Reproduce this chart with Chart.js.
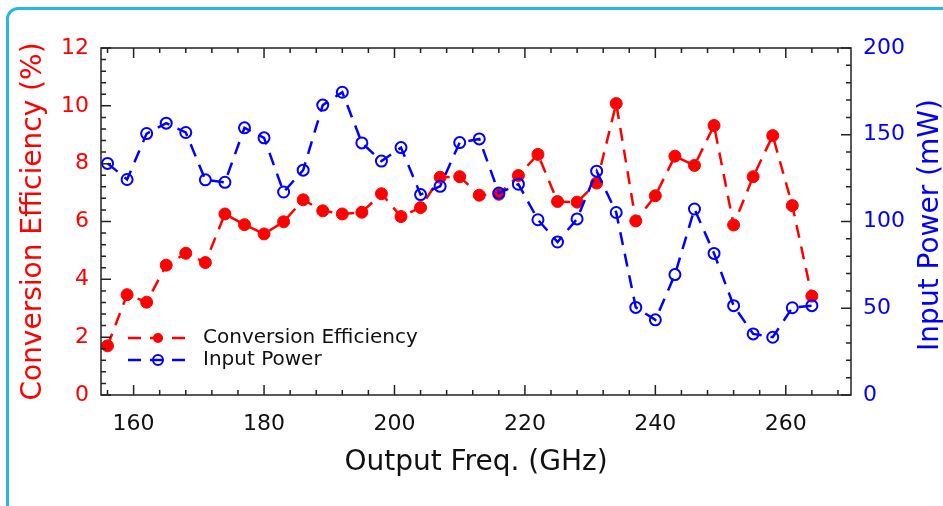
<!DOCTYPE html>
<html>
<head>
<meta charset="utf-8">
<script src="https://cdn.jsdelivr.net/npm/chart.js@4.4.1/dist/chart.umd.min.js"></script>
<style>
  html, body { margin: 0; padding: 0; background: #fff; }
  #wrap { position: relative; width: 943px; height: 506px; overflow: hidden; }
  #frame { position: absolute; left: 6px; top: 7px; width: 980px; height: 560px;
           border: 3px solid #2ab8da; border-radius: 12px; box-sizing: border-box; }
  #c { position: absolute; left: 0; top: 0; }
</style>
</head>
<body>
<div id="wrap">
  <div id="frame"></div>
  <canvas id="c" width="943" height="506"></canvas>
</div>
<script>
// data
var freq = [156, 159, 162, 165, 168, 171, 174, 177, 180, 183, 186, 189, 192, 195, 198, 201, 204, 207, 210,
            213, 216, 219, 222, 225, 228, 231, 234, 237, 240, 243, 246, 249, 252, 255, 258, 261, 264];
var efficiency = [1.7, 3.47, 3.21, 4.49, 4.9, 4.58, 6.26, 5.89, 5.57, 5.99, 6.75, 6.37, 6.26, 6.32, 6.96, 6.17,
                  6.48, 7.53, 7.55, 6.91, 6.94, 7.59, 8.32, 6.69, 6.67, 7.33, 10.08, 6.02, 6.89, 8.26, 7.94,
                  9.32, 5.88, 7.55, 8.97, 6.55, 3.42];
var inputPower = [133.5, 124.2, 150.7, 156.7, 151.3, 124, 122.6, 154, 148.2, 117, 129.6, 167.1, 174.5, 145.3,
                  134.8, 142.6, 115.5, 120.3, 145.5, 147.6, 116.4, 121.5, 101, 88.2, 101.5, 129, 105.2, 50.5,
                  43.3, 69.4, 107.2, 81.6, 51.5, 35.2, 33.3, 50.3, 51.5];
var xTicks = [160, 180, 200, 220, 240, 260];
var leftTicks = [0, 2, 4, 6, 8, 10, 12];
var rightTicks = [0, 50, 100, 150, 200];
var seriesNames = ['Conversion Efficiency', 'Input Power'];

var RED = '#ff0000', BLUE = '#0000ff';
var FONT = "'DejaVu Sans', Verdana, sans-serif";

function pts(ys) {
  return freq.map(function(f, i) { return { x: f, y: ys[i] }; });
}
function fixTicks(list) {
  return function(scale) { scale.ticks = list.map(function(v) { return { value: v }; }); };
}

// box, inward ticks (major + minor), right title, legend
var frameTicks = {
  id: 'frameTicks',
  afterDraw: function(chart) {
    var ctx = chart.ctx, a = chart.chartArea;
    var sx = chart.scales.x, sl = chart.scales.y, sr = chart.scales.y1;
    ctx.save();
    ctx.strokeStyle = '#222';
    ctx.lineWidth = 1.5;
    ctx.strokeRect(a.left, a.top, a.right - a.left, a.bottom - a.top);
    ctx.beginPath();
    var v, p, len;
    for (v = 156; v <= 270; v += 4) {
      p = sx.getPixelForValue(v);
      len = (v % 20 === 0) ? 10 : 5;
      ctx.moveTo(p, a.bottom); ctx.lineTo(p, a.bottom - len);
      ctx.moveTo(p, a.top); ctx.lineTo(p, a.top + len);
    }
    for (var k = 0; k <= 30; k++) {
      v = k * 0.4;
      p = sl.getPixelForValue(v);
      len = (k % 5 === 0) ? 10 : 5;
      ctx.moveTo(a.left, p); ctx.lineTo(a.left + len, p);
    }
    for (v = 0; v <= 200; v += 10) {
      p = sr.getPixelForValue(v);
      len = (v % 50 === 0) ? 10 : 5;
      ctx.moveTo(a.right, p); ctx.lineTo(a.right - len, p);
    }
    ctx.stroke();

    // right axis title, reading bottom to top
    ctx.fillStyle = BLUE;
    ctx.font = '28px ' + FONT;
    ctx.textAlign = 'center';
    ctx.textBaseline = 'middle';
    ctx.translate(931, 225);
    ctx.rotate(-Math.PI / 2);
    ctx.fillText('Input Power (mW)', 0, 0);
    ctx.restore();

    // legend inside the plot
    ctx.save();
    var rows = [
      { name: seriesNames[0], color: RED, fill: true, y: 338 },
      { name: seriesNames[1], color: BLUE, fill: false, y: 360 }
    ];
    rows.forEach(function(r) {
      ctx.strokeStyle = r.color;
      ctx.lineWidth = 2.5;
      ctx.setLineDash([13, 9]);
      ctx.beginPath();
      ctx.moveTo(128, r.y); ctx.lineTo(188, r.y);
      ctx.stroke();
      ctx.setLineDash([]);
      ctx.beginPath();
      ctx.arc(158, r.y, 5, 0, Math.PI * 2);
      if (r.fill) { ctx.fillStyle = r.color; ctx.fill(); }
      else { ctx.lineWidth = 2; ctx.stroke(); }
      ctx.fillStyle = '#111';
      ctx.font = '20px ' + FONT;
      ctx.textAlign = 'left';
      ctx.textBaseline = 'middle';
      ctx.fillText(r.name, 203, r.y);
    });
    ctx.restore();
  }
};

new Chart(document.getElementById('c'), {
  type: 'line',
  data: {
    datasets: [{
      label: seriesNames[0],
      data: pts(efficiency),
      yAxisID: 'y',
      order: 1,
      borderColor: RED,
      borderWidth: 2.5,
      borderDash: [13, 9],
      pointRadius: 6,
      pointBackgroundColor: RED,
      pointBorderColor: RED,
      pointBorderWidth: 1,
      tension: 0
    }, {
      label: seriesNames[1],
      data: pts(inputPower),
      yAxisID: 'y1',
      order: 0,
      borderColor: BLUE,
      borderWidth: 2.5,
      borderDash: [13, 9],
      pointRadius: 5.5,
      pointBackgroundColor: 'rgba(0,0,0,0)',
      pointBorderColor: BLUE,
      pointBorderWidth: 2,
      tension: 0
    }]
  },
  options: {
    responsive: false,
    animation: false,
    devicePixelRatio: 1,
    layout: { padding: { top: 48, left: 0, right: 0, bottom: 0 } },
    plugins: { legend: { display: false }, tooltip: { enabled: false } },
    scales: {
      x: {
        type: 'linear', position: 'bottom', min: 155, max: 270,
        afterBuildTicks: fixTicks(xTicks),
        afterFit: function(s) { s.height = 111; },
        grid: { display: false }, border: { display: false },
        ticks: { color: '#111', font: { family: FONT, size: 22 }, padding: 8, maxRotation: 0 },
        title: { display: true, text: 'Output Freq. (GHz)', color: '#111',
                 font: { family: FONT, size: 28 }, padding: { top: 0, bottom: 26 } }
      },
      y: {
        type: 'linear', position: 'left', min: 0, max: 12,
        afterBuildTicks: fixTicks(leftTicks),
        afterFit: function(s) { s.width = 101; },
        grid: { display: false }, border: { display: false },
        ticks: { color: RED, font: { family: FONT, size: 22 }, padding: 4 },
        title: { display: true, text: 'Conversion Efficiency (%)', color: RED,
                 font: { family: FONT, size: 28 }, padding: { top: 17, bottom: 0 } }
      },
      y1: {
        type: 'linear', position: 'right', min: 0, max: 200,
        afterBuildTicks: fixTicks(rightTicks),
        afterFit: function(s) { s.width = 92; },
        grid: { display: false }, border: { display: false },
        ticks: { color: BLUE, font: { family: FONT, size: 22 }, padding: 4 }
      }
    }
  },
  plugins: [frameTicks]
});
</script>
</body>
</html>
